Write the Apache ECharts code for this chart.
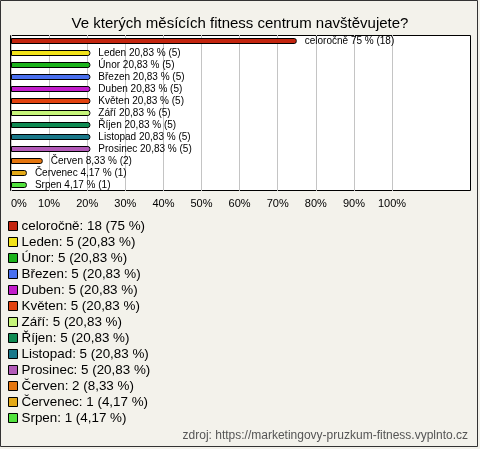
<!DOCTYPE html>
<html><head><meta charset="utf-8">
<script src="https://cdn.jsdelivr.net/npm/echarts@6/dist/echarts.min.js"></script>
<style>html,body{margin:0;padding:0;background:#f3f2eb}#c{width:480px;height:449px}</style>
</head><body><div id="c"></div>
<script>
const categories = ['celoročně','Leden','Únor','Březen','Duben','Květen','Září','Říjen','Listopad','Prosinec','Červen','Červenec','Srpen'];
const counts = [18,5,5,5,5,5,5,5,5,5,2,1,1];
const percents = [75,20.83,20.83,20.83,20.83,20.83,20.83,20.83,20.83,20.83,8.33,4.17,4.17];
const percentText = ['75','20,83','20,83','20,83','20,83','20,83','20,83','20,83','20,83','20,83','8,33','4,17','4,17'];
const tickLabels = ['0%','10%','20%','30%','40%','50%','60%','70%','80%','90%','100%'];
const colors = ['#c3250f','#f2e31a','#1bb21b','#4a70ee','#c21ccb','#e2420f','#c6f57a','#0f8a52','#1a788a','#b25ab8','#e5760f','#e3a918','#52e23e'];

const FONT = '"Liberation Sans", Arial, sans-serif';
const series = categories.map((name, i) => ({
  name: name,
  type: 'bar',
  stack: 'all',
  barWidth: 6,
  data: categories.map((c, j) => j === i ? percents[i] : '-'),
  itemStyle: { color: colors[i], borderColor: '#000', borderWidth: 1, borderRadius: [0, 2, 2, 0] },
  label: {
    show: true, position: 'right', distance: 8,
    fontFamily: FONT, fontSize: 10, color: '#000',
    formatter: () => name + ' ' + percentText[i] + ' % (' + counts[i] + ')'
  },
  animation: false
}));

const chart = echarts.init(document.getElementById('c'), null, { renderer: 'canvas' });
chart.setOption({
  backgroundColor: '#f3f2eb',
  animation: false,
  title: {
    text: 'Ve kterých měsících fitness centrum navštěvujete?',
    left: 'center', top: 11,
    textStyle: { fontFamily: FONT, fontSize: 15, fontWeight: 'normal', color: '#000' }
  },
  grid: { left: 11, top: 35, width: 381, height: 156 },
  xAxis: {
    type: 'value', min: 0, max: 100, interval: 10,
    axisLine: { show: false }, axisTick: { show: false },
    splitLine: { show: true, lineStyle: { color: '#c4c4c4', width: 1 } },
    axisLabel: {
      fontFamily: FONT, fontSize: 11, color: '#000', margin: 7,
      alignMinLabel: 'left',
      formatter: (v) => tickLabels[Math.round(v / 10)]
    }
  },
  yAxis: {
    type: 'category', data: categories, inverse: true,
    axisLine: { show: false }, axisTick: { show: false }, axisLabel: { show: false },
    splitLine: { show: false }
  },
  legend: {
    orient: 'vertical', left: 8, top: 218, padding: 0,
    itemWidth: 9, itemHeight: 9, itemGap: 0,
    icon: 'rect',
    itemStyle: { borderColor: '#000', borderWidth: 1 },
    textStyle: { fontFamily: FONT, fontSize: 13.4, color: '#000', lineHeight: 16, padding: [0,0,0,-1] },
    formatter: (name) => {
      const i = categories.indexOf(name);
      return name + ': ' + counts[i] + ' (' + percentText[i] + ' %)';
    },
    selectedMode: false,
    data: categories
  },
  graphic: [
    { type: 'rect', z: -10, silent: true,
      shape: { x: 10.5, y: 35.5, width: 460, height: 155 },
      style: { fill: '#fff', stroke: '#000', lineWidth: 1 } },
    { type: 'rect', z: 100, silent: true,
      shape: { x: 0.5, y: 0.5, width: 477, height: 446 },
      style: { fill: null, stroke: '#333', lineWidth: 1 } },
    { type: 'text', z: 100, silent: true, right: 12, top: 430,
      style: { text: 'zdroj: https://marketingovy-pruzkum-fitness.vyplnto.cz', font: '12px ' + FONT, fill: '#555' } }
  ],
  series: series
});
</script></body></html>
